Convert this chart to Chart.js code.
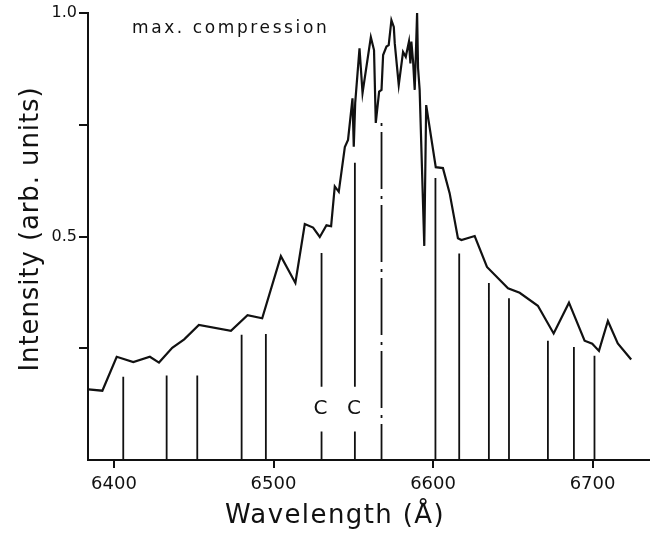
<!DOCTYPE html>
<html>
<head>
<meta charset="utf-8">
<title>max. compression</title>
<script src="https://cdn.jsdelivr.net/npm/chart.js@4/dist/chart.umd.min.js"></script>
<style>
  html, body { margin: 0; padding: 0; background: #fff; }
  canvas { display: block; }
</style>
</head>
<body>
<canvas id="chart" width="650" height="535"></canvas>
<script>
// spectrum (wavelength in Å, intensity in arb. units)
const wavelengths = [
  6383.9, 6392.7, 6401.7, 6412.1, 6422.5, 6428.2, 6436.5, 6444.0, 6453.2, 6473.3,
  6483.7, 6492.9, 6504.6, 6513.7, 6519.6, 6524.8, 6529.0, 6533.2, 6536.1, 6538.4,
  6540.9, 6544.7, 6546.7, 6549.5, 6550.3, 6551.2, 6553.9, 6555.8, 6561.0, 6563.0,
  6564.1, 6566.2, 6567.7, 6568.7, 6570.8, 6572.2, 6573.9, 6575.4, 6576.0, 6578.5,
  6581.2, 6582.9, 6584.9, 6585.8, 6586.4, 6587.5, 6588.5, 6589.1, 6590.0, 6590.6,
  6591.6, 6594.5, 6595.7, 6601.7, 6606.2, 6610.4, 6615.6, 6617.8, 6626.1, 6633.8,
  6647.0, 6654.3, 6665.7, 6675.6, 6685.2, 6695.0, 6699.8, 6704.0, 6709.6, 6715.8,
  6724.2
]
const intensity = [
  0.158, 0.155, 0.231, 0.219, 0.231, 0.218, 0.251, 0.270, 0.302, 0.289,
  0.324, 0.317, 0.456, 0.396, 0.528, 0.520, 0.499, 0.525, 0.523, 0.612,
  0.600, 0.700, 0.716, 0.809, 0.701, 0.799, 0.921, 0.821, 0.946, 0.917,
  0.754, 0.824, 0.828, 0.906, 0.925, 0.928, 0.984, 0.969, 0.932, 0.839,
  0.913, 0.902, 0.936, 0.887, 0.936, 0.891, 0.828, 0.895, 1.000, 0.877,
  0.828, 0.479, 0.794, 0.655, 0.653, 0.597, 0.496, 0.492, 0.501, 0.432,
  0.384, 0.374, 0.345, 0.283, 0.352, 0.267, 0.260, 0.244, 0.311, 0.261,
  0.225
]

// line positions marked under the spectrum
const lineWavelengths = [6405.8, 6433.0, 6452.2, 6480.0, 6495.2, 6601.5, 6616.4, 6635.0, 6647.6, 6672.0, 6688.3, 6701.2]
const lineTops = [0.186, 0.189, 0.189, 0.280, 0.282, 0.631, 0.462, 0.396, 0.362, 0.267, 0.253, 0.233]
const carbonWavelengths = [6530.1, 6551.0]
const carbonTops = [0.463, 0.665]
const carbonLabels = ['C', 'C']
const carbonGap = [0.064, 0.164]
const alphaWavelength = 6567.7
const alphaTop = 0.754

const xTicks = [6400, 6500, 6600, 6700]
const yTicks = [0.25, 0.5, 0.75, 1.0]
const yTickLabels = ['', '0.5', '', '1.0']

const ink = '#111'
const fontFamily = '"DejaVu Sans", sans-serif'

function markerData(ws, tops) {
  let pts = []
  ws.forEach((w, i) => {
    pts.push({ x: w, y: 0 }, { x: w, y: tops[i] }, { x: w, y: null })
  })
  return pts
}

function carbonData() {
  let pts = []
  carbonWavelengths.forEach((w, i) => {
    pts.push({ x: w, y: 0 }, { x: w, y: carbonGap[0] }, { x: w, y: null })
    pts.push({ x: w, y: carbonGap[1] }, { x: w, y: carbonTops[i] }, { x: w, y: null })
  })
  return pts
}

const figureText = {
  id: 'figureText',
  afterDraw(chart) {
    const { ctx } = chart
    const x = chart.scales.x, y = chart.scales.y
    ctx.save()
    ctx.fillStyle = ink

    ctx.font = '20px ' + fontFamily
    ctx.textAlign = 'center'
    ctx.textBaseline = 'middle'
    carbonWavelengths.forEach((w, i) => {
      ctx.fillText(carbonLabels[i], x.getPixelForValue(w) - 1, y.getPixelForValue(0.114))
    })

    ctx.textAlign = 'left'
    ctx.textBaseline = 'alphabetic'
    ctx.letterSpacing = '2.6px'
    ctx.font = '17px ' + fontFamily
    ctx.fillText('max. compression', x.getPixelForValue(6411.3), y.getPixelForValue(0.955))

    ctx.textAlign = 'center'
    ctx.letterSpacing = '1.4px'
    ctx.font = '26px ' + fontFamily
    ctx.fillText('Wavelength (Å)', 335, 523)

    ctx.letterSpacing = '0.9px'
    ctx.translate(38, 229)
    ctx.rotate(-Math.PI / 2)
    ctx.fillText('Intensity (arb. units)', 0, 0)
    ctx.restore()
  }
}

new Chart(document.getElementById('chart'), {
  type: 'scatter',
  data: {
    datasets: [
      {
        data: wavelengths.map((w, i) => ({ x: w, y: intensity[i] })),
        showLine: true,
        borderColor: ink,
        borderWidth: 2.2,
        pointRadius: 0
      },
      {
        data: markerData(lineWavelengths, lineTops),
        showLine: true,
        borderColor: ink,
        borderWidth: 1.8,
        pointRadius: 0
      },
      {
        data: carbonData(),
        showLine: true,
        borderColor: ink,
        borderWidth: 1.8,
        pointRadius: 0
      },
      {
        data: [{ x: alphaWavelength, y: alphaTop }, { x: alphaWavelength, y: 0 }],
        showLine: true,
        borderColor: ink,
        borderWidth: 1.8,
        borderDash: [3, 6, 57, 7],
        pointRadius: 0
      }
    ]
  },
  options: {
    responsive: false,
    animation: false,
    layout: { padding: { top: 13, right: 0, left: 0, bottom: 0 } },
    plugins: { legend: { display: false }, tooltip: { enabled: false } },
    scales: {
      x: {
        type: 'linear',
        min: 6383.7,
        max: 6736,
        afterBuildTicks: (scale) => { scale.ticks = xTicks.map(v => ({ value: v })) },
        afterFit: (scale) => { scale.height = 75 },
        ticks: {
          color: ink,
          padding: 6,
          font: { family: fontFamily, size: 18 },
          callback: (v) => String(v)
        },
        grid: { drawOnChartArea: false, drawTicks: true, tickLength: 8, color: ink, lineWidth: 2 },
        border: { display: true, color: ink, width: 2 }
      },
      y: {
        type: 'linear',
        min: 0,
        max: 1,
        afterBuildTicks: (scale) => { scale.ticks = yTicks.map(v => ({ value: v })) },
        afterFit: (scale) => { scale.width = 88 },
        ticks: {
          color: ink,
          padding: 2,
          font: { family: fontFamily, size: 16 },
          callback: (v) => yTickLabels[yTicks.indexOf(v)] || ''
        },
        grid: { drawOnChartArea: false, drawTicks: true, tickLength: 9, color: ink, lineWidth: 2 },
        border: { display: true, color: ink, width: 2 }
      }
    }
  },
  plugins: [figureText]
})
</script>
</body>
</html>
